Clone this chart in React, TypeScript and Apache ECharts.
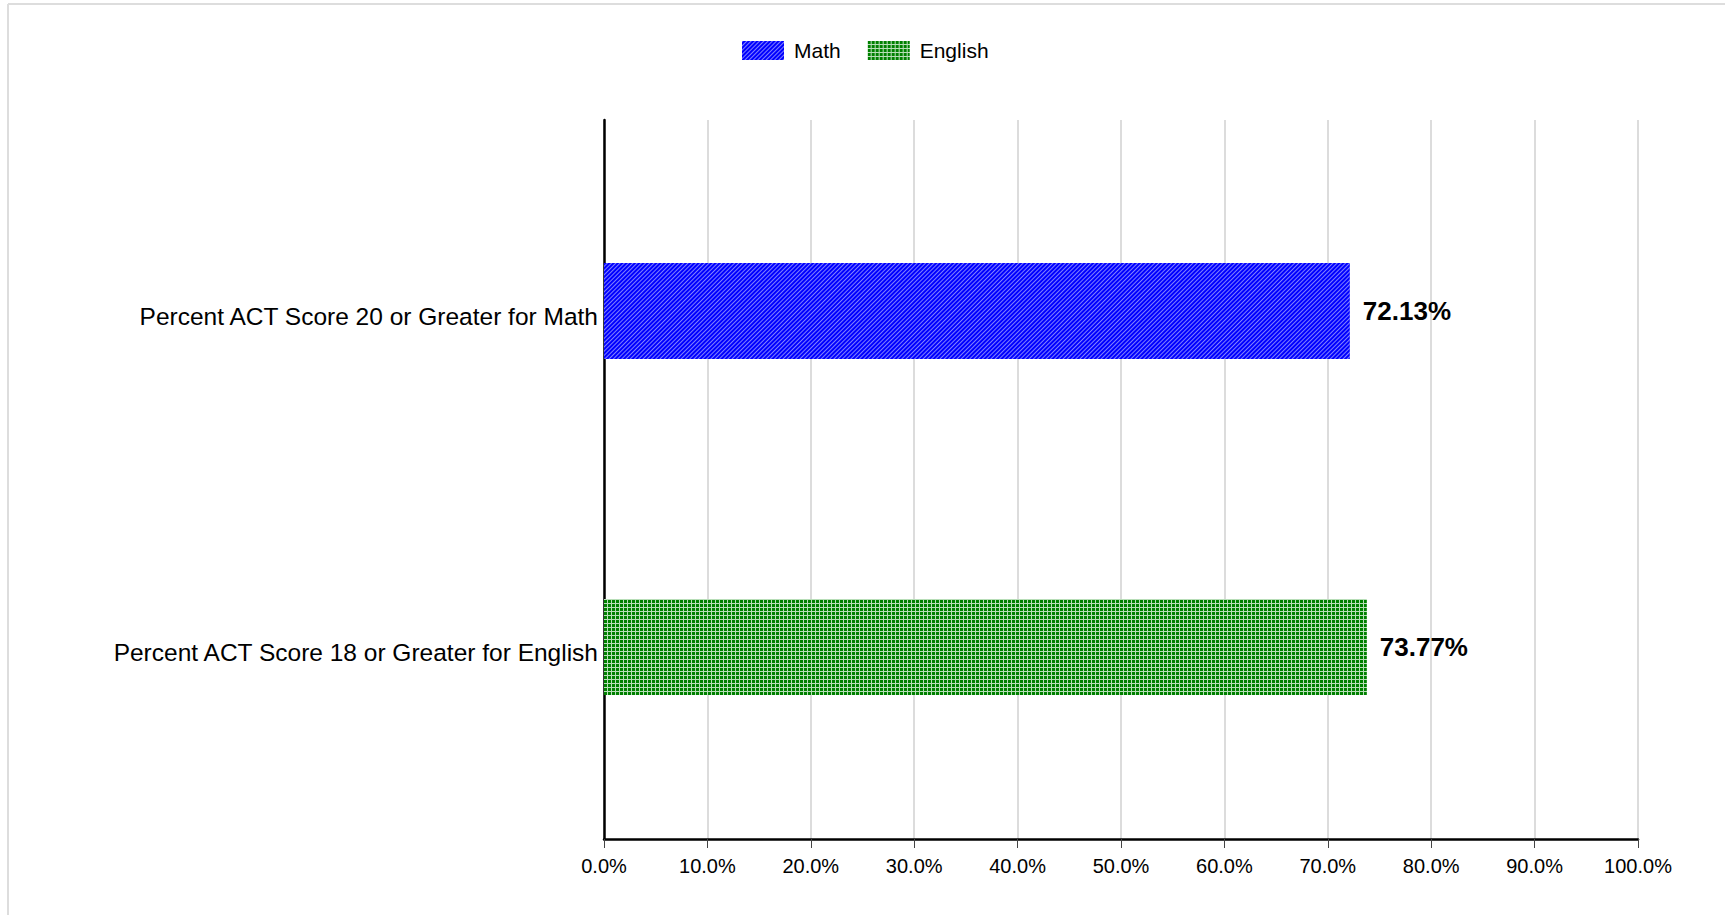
import React, { useEffect, useRef } from "react";
import * as echarts from "echarts";

const categories = [
  "Percent ACT Score 20 or Greater for Math",
  "Percent ACT Score 18 or Greater for English",
];
const seriesNames = ["Math", "English"];
const mathValues: (number | string)[] = [72.13, "-"];
const englishValues: (number | string)[] = ["-", 73.77];
const xTicks = { min: 0, max: 100, interval: 10 };

const FONT = "'Liberation Sans', Arial, sans-serif";

export default function App() {
  const ref = useRef<HTMLDivElement>(null);
  useEffect(() => {
    if (!ref.current) return;
    const chart = echarts.init(ref.current, undefined, { renderer: "svg" });
    const gridBox = { left: 604, right: 87 };
    const valueLabel = {
      show: true,
      position: "right",
      distance: 13,
      fontSize: 26,
      fontWeight: "bold",
      color: "#000",
      fontFamily: FONT,
      formatter: (p: any) => p.value.toFixed(2) + "%",
    };
    chart.setOption({
      animation: false,
      backgroundColor: "#ffffff",
      textStyle: { fontFamily: FONT },
      graphic: [
        { type: "line", shape: { x1: 8, y1: 4, x2: 1725, y2: 4 }, style: { stroke: "#dddddd", lineWidth: 2 } },
        { type: "line", shape: { x1: 8, y1: 4, x2: 8, y2: 915 }, style: { stroke: "#dddddd", lineWidth: 2 } },
      ],
      legend: {
        data: seriesNames,
        left: 742,
        top: 40,
        padding: 0,
        itemWidth: 42,
        itemHeight: 19,
        itemGap: 27,
        icon: "rect",
        textStyle: { fontSize: 21, color: "#000", fontFamily: FONT, padding: [0, 0, 0, 5] },
      },
      grid: [
        { ...gridBox, top: 120, bottom: 76, containLabel: false },
        { ...gridBox, top: 143, bottom: 100, containLabel: false },
      ],
      xAxis: [
        {
          type: "value",
          gridIndex: 0,
          min: xTicks.min,
          max: xTicks.max,
          interval: xTicks.interval,
          axisLine: { show: true, lineStyle: { color: "#000", width: 2.5 } },
          axisTick: { show: true, length: 9, lineStyle: { color: "#444", width: 1 } },
          axisLabel: {
            fontSize: 20,
            color: "#000",
            margin: 17,
            fontFamily: FONT,
            formatter: (v: number) => v.toFixed(1) + "%",
          },
          splitLine: { show: true, lineStyle: { color: "#dcdcdc", width: 2 } },
        },
        {
          type: "value",
          gridIndex: 1,
          min: xTicks.min,
          max: xTicks.max,
          show: false,
        },
      ],
      yAxis: [
        {
          type: "value",
          gridIndex: 0,
          min: 0,
          max: 1,
          axisLine: { show: true, lineStyle: { color: "#000", width: 2.5 } },
          axisTick: { show: false },
          axisLabel: { show: false },
          splitLine: { show: false },
        },
        {
          type: "category",
          gridIndex: 1,
          inverse: true,
          data: categories,
          axisLine: { show: false },
          axisTick: { show: false },
          splitLine: { show: false },
          axisLabel: {
            margin: 6,
            formatter: (v: string) => "{c|" + v + "}",
            rich: {
              c: {
                fontSize: 24.5,
                color: "#000",
                fontFamily: FONT,
                padding: [11, 0, 0, 0],
              },
            },
          },
        },
      ],
      series: [
        {
          name: seriesNames[0],
          type: "bar",
          xAxisIndex: 1,
          yAxisIndex: 1,
          data: mathValues,
          barWidth: 96,
          barGap: "-100%",
          itemStyle: {
            color: "#0000ff",
            decal: {
              symbol: "rect",
              symbolSize: 1,
              color: "rgba(255,255,255,0.5)",
              dashArrayX: [1, 0],
              dashArrayY: [1, 1.5],
              rotation: -Math.PI / 4,
            },
          },
          label: valueLabel,
        },
        {
          name: seriesNames[1],
          type: "bar",
          xAxisIndex: 1,
          yAxisIndex: 1,
          data: englishValues,
          barWidth: 96,
          barGap: "-100%",
          itemStyle: {
            color: "#b8deb8",
            decal: {
              symbol: "rect",
              symbolSize: 1,
              color: "#008000",
              dashArrayX: [3, 1],
              dashArrayY: [3, 1],
            },
          },
          label: valueLabel,
        },
      ],
    });
    return () => chart.dispose();
  }, []);
  return (
    <div
      ref={ref}
      style={{ position: "fixed", left: 0, top: 0, width: 1725, height: 915 }}
    />
  );
}
